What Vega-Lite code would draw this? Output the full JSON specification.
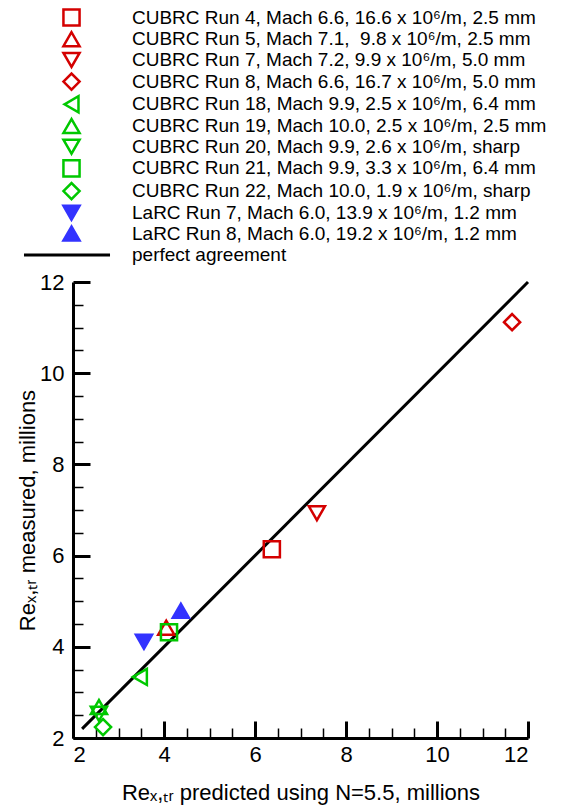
{
  "$schema": "https://vega.github.io/schema/vega-lite/v6.json",
  "width": 455,
  "height": 456,
  "autosize": "none",
  "padding": {"left": 73, "top": 282, "right": 45, "bottom": 69},
  "config": {
    "font": "Liberation Sans",
    "view": {"stroke": null},
    "axis": {
      "grid": false,
      "labelFont": "Liberation Sans",
      "labelFontSize": 22,
      "labelColor": "black",
      "titleFont": "Liberation Sans",
      "titleFontSize": 22,
      "titleFontWeight": "normal",
      "titleColor": "black",
      "domainColor": "black",
      "domainWidth": 3,
      "tickColor": "black"
    },
    "legend": {
      "title": null,
      "labelFontSize": 19,
      "labelFont": "Liberation Sans",
      "labelColor": "black",
      "labelLimit": 0,
      "padding": 0
    }
  },
  "datasets": {
    "pts": [
      {"series": "CUBRC Run 4, Mach 6.6, 16.6 x 10⁶/m, 2.5 mm", "pred": 6.37, "meas": 6.14},
      {"series": "CUBRC Run 5, Mach 7.1,\u00a0 9.8 x 10⁶/m, 2.5 mm", "pred": 4.05, "meas": 4.42},
      {"series": "CUBRC Run 7, Mach 7.2, 9.9 x 10⁶/m, 5.0 mm", "pred": 7.36, "meas": 6.93},
      {"series": "CUBRC Run 8, Mach 6.6, 16.7 x 10⁶/m, 5.0 mm", "pred": 11.65, "meas": 11.12},
      {"series": "CUBRC Run 18, Mach 9.9, 2.5 x 10⁶/m, 6.4 mm", "pred": 3.47, "meas": 3.34},
      {"series": "CUBRC Run 19, Mach 10.0, 2.5 x 10⁶/m, 2.5 mm", "pred": 2.57, "meas": 2.68},
      {"series": "CUBRC Run 20, Mach 9.9, 2.6 x 10⁶/m, sharp", "pred": 2.57, "meas": 2.53},
      {"series": "CUBRC Run 21, Mach 9.9, 3.3 x 10⁶/m, 6.4 mm", "pred": 4.11, "meas": 4.32},
      {"series": "CUBRC Run 22, Mach 10.0, 1.9 x 10⁶/m, sharp", "pred": 2.66, "meas": 2.24},
      {"series": "LaRC Run 7, Mach 6.0, 13.9 x 10⁶/m, 1.2 mm", "pred": 3.56, "meas": 4.11},
      {"series": "LaRC Run 8, Mach 6.0, 19.2 x 10⁶/m, 1.2 mm", "pred": 4.37, "meas": 4.79}
    ],
    "fit": [
      {"name": "perfect agreement", "pred": 2.2, "meas": 2.2},
      {"name": "perfect agreement", "pred": 12, "meas": 12}
    ]
  },
  "layer": [
    {
      "data": {"name": "fit"},
      "mark": {"type": "line", "strokeWidth": 3},
      "encoding": {
        "x": {
          "field": "pred", "type": "quantitative",
          "scale": {"domain": [2, 12], "nice": false, "zero": false},
          "axis": {"orient": "bottom", "values": [2.5, 3, 3.5, 4.5, 5, 5.5, 6.5, 7, 7.5, 8.5, 9, 9.5, 10.5, 11, 11.5], "labels": false, "domain": false, "title": null, "tickSize": -10, "tickWidth": 1.5}
        },
        "y": {
          "field": "meas", "type": "quantitative",
          "scale": {"domain": [2, 12], "nice": false, "zero": false},
          "axis": {"orient": "left", "values": [2.5, 3, 3.5, 4.5, 5, 5.5, 6.5, 7, 7.5, 8.5, 9, 9.5, 10.5, 11, 11.5], "labels": false, "domain": false, "title": null, "tickSize": -10, "tickWidth": 1.5}
        },
        "color": {
          "field": "name", "type": "nominal",
          "scale": {"range": ["black"]},
          "legend": {"orient": "none", "legendX": -51, "legendY": -72, "symbolSize": 7400, "symbolStrokeWidth": 3, "symbolType": "stroke", "labelOffset": 20}
        }
      }
    },
    {
      "data": {"name": "pts"},
      "mark": {"type": "point", "strokeWidth": 2.5, "opacity": 1, "size": 260},
      "encoding": {
        "x": {
          "field": "pred", "type": "quantitative",
          "axis": {"orient": "bottom", "values": [2, 4, 6, 8, 10, 12], "tickSize": -17, "tickWidth": 3, "labelPadding": 23, "title": "Reₓ,ₜᵣ predicted using N=5.5, millions", "titlePadding": 17}
        },
        "y": {
          "field": "meas", "type": "quantitative",
          "axis": {"orient": "left", "values": [2, 4, 6, 8, 10, 12], "tickSize": -17, "tickWidth": 3, "labelPadding": 26, "title": "Reₓ,ₜᵣ measured, millions", "titlePadding": 0}
        },
        "shape": {
          "field": "series", "type": "nominal",
          "scale": {
            "domain": ["CUBRC Run 4, Mach 6.6, 16.6 x 10⁶/m, 2.5 mm", "CUBRC Run 5, Mach 7.1,\u00a0 9.8 x 10⁶/m, 2.5 mm", "CUBRC Run 7, Mach 7.2, 9.9 x 10⁶/m, 5.0 mm", "CUBRC Run 8, Mach 6.6, 16.7 x 10⁶/m, 5.0 mm", "CUBRC Run 18, Mach 9.9, 2.5 x 10⁶/m, 6.4 mm", "CUBRC Run 19, Mach 10.0, 2.5 x 10⁶/m, 2.5 mm", "CUBRC Run 20, Mach 9.9, 2.6 x 10⁶/m, sharp", "CUBRC Run 21, Mach 9.9, 3.3 x 10⁶/m, 6.4 mm", "CUBRC Run 22, Mach 10.0, 1.9 x 10⁶/m, sharp", "LaRC Run 7, Mach 6.0, 13.9 x 10⁶/m, 1.2 mm", "LaRC Run 8, Mach 6.0, 19.2 x 10⁶/m, 1.2 mm"],
            "range": ["square", "triangle-up", "triangle-down", "diamond", "triangle-left", "triangle-up", "triangle-down", "square", "diamond", "triangle-down", "triangle-up"]
          },
          "legend": {"orient": "none", "legendX": -11, "legendY": -274, "symbolSize": 260, "symbolStrokeWidth": 2.5, "labelOffset": 51, "rowPadding": -4.3, "gridAlign": "none"}
        },
        "stroke": {
          "field": "series", "type": "nominal",
          "scale": {
            "domain": ["CUBRC Run 4, Mach 6.6, 16.6 x 10⁶/m, 2.5 mm", "CUBRC Run 5, Mach 7.1,\u00a0 9.8 x 10⁶/m, 2.5 mm", "CUBRC Run 7, Mach 7.2, 9.9 x 10⁶/m, 5.0 mm", "CUBRC Run 8, Mach 6.6, 16.7 x 10⁶/m, 5.0 mm", "CUBRC Run 18, Mach 9.9, 2.5 x 10⁶/m, 6.4 mm", "CUBRC Run 19, Mach 10.0, 2.5 x 10⁶/m, 2.5 mm", "CUBRC Run 20, Mach 9.9, 2.6 x 10⁶/m, sharp", "CUBRC Run 21, Mach 9.9, 3.3 x 10⁶/m, 6.4 mm", "CUBRC Run 22, Mach 10.0, 1.9 x 10⁶/m, sharp", "LaRC Run 7, Mach 6.0, 13.9 x 10⁶/m, 1.2 mm", "LaRC Run 8, Mach 6.0, 19.2 x 10⁶/m, 1.2 mm"],
            "range": ["#d40000", "#d40000", "#d40000", "#d40000", "#00c800", "#00c800", "#00c800", "#00c800", "#00c800", "#3333ff", "#3333ff"]
          },
          "legend": {"orient": "none", "legendX": -11, "legendY": -274, "symbolSize": 260, "symbolStrokeWidth": 2.5, "labelOffset": 51, "rowPadding": -4.3, "gridAlign": "none"}
        },
        "fill": {
          "field": "series", "type": "nominal",
          "scale": {
            "domain": ["CUBRC Run 4, Mach 6.6, 16.6 x 10⁶/m, 2.5 mm", "CUBRC Run 5, Mach 7.1,\u00a0 9.8 x 10⁶/m, 2.5 mm", "CUBRC Run 7, Mach 7.2, 9.9 x 10⁶/m, 5.0 mm", "CUBRC Run 8, Mach 6.6, 16.7 x 10⁶/m, 5.0 mm", "CUBRC Run 18, Mach 9.9, 2.5 x 10⁶/m, 6.4 mm", "CUBRC Run 19, Mach 10.0, 2.5 x 10⁶/m, 2.5 mm", "CUBRC Run 20, Mach 9.9, 2.6 x 10⁶/m, sharp", "CUBRC Run 21, Mach 9.9, 3.3 x 10⁶/m, 6.4 mm", "CUBRC Run 22, Mach 10.0, 1.9 x 10⁶/m, sharp", "LaRC Run 7, Mach 6.0, 13.9 x 10⁶/m, 1.2 mm", "LaRC Run 8, Mach 6.0, 19.2 x 10⁶/m, 1.2 mm"],
            "range": ["transparent", "transparent", "transparent", "transparent", "transparent", "transparent", "transparent", "transparent", "transparent", "#3333ff", "#3333ff"]
          },
          "legend": {"orient": "none", "legendX": -11, "legendY": -274, "symbolSize": 260, "symbolStrokeWidth": 2.5, "labelOffset": 51, "rowPadding": -4.3, "gridAlign": "none"}
        }
      }
    }
  ],
  "resolve": {"axis": {"x": "independent", "y": "independent"}}
}
